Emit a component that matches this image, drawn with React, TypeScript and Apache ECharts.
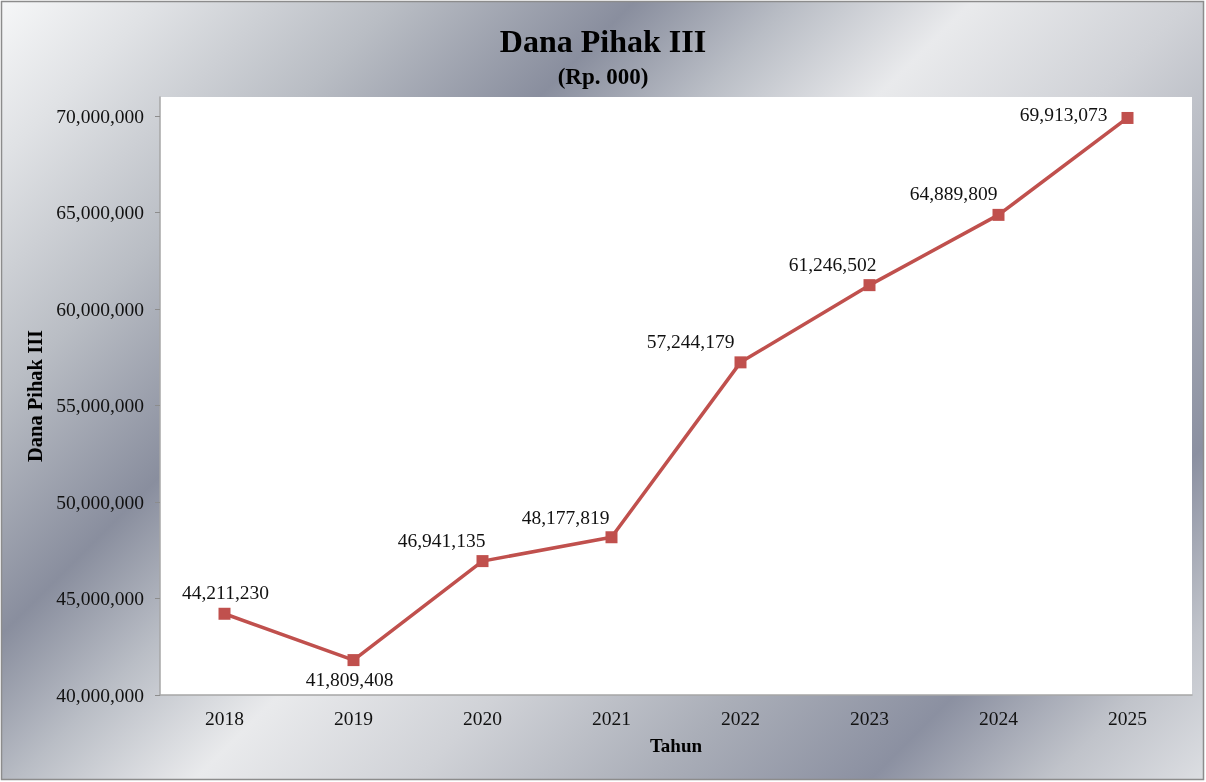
import React, { useEffect, useRef } from "react";
import * as echarts from "echarts";

const years = ["2018", "2019", "2020", "2021", "2022", "2023", "2024", "2025"];
const danaPihakIII = [44211230, 41809408, 46941135, 48177819, 57244179, 61246502, 64889809, 69913073];
const yTicks = [40000000, 45000000, 50000000, 55000000, 60000000, 65000000, 70000000];

const SERIF = '"Liberation Serif", "Times New Roman", serif';

// label placement (style only)
const labelPlacement: { position: string; offset: number[]; distance?: number }[] = [
  { position: "top", offset: [1, 0] },
  { position: "bottom", offset: [-4, -2] },
  { position: "top", offset: [-41, 0] },
  { position: "top", offset: [-46, 1] },
  { position: "top", offset: [-50, 0] },
  { position: "top", offset: [-37, 0] },
  { position: "top", offset: [-45, 0] },
  { position: "left", offset: [0, -3], distance: 14 },
];

const fmt = (v: number) => v.toLocaleString("en-US");

export default function App() {
  const ref = useRef<HTMLDivElement>(null);
  useEffect(() => {
    if (!ref.current) return;
    const chart = echarts.init(ref.current, null, { renderer: "svg" });
    const bg = {
      type: "linear",
      x: 0,
      y: 0,
      x2: 994,
      y2: 994,
      global: true,
      colorStops: [
        { offset: 0, color: "#f6f7f8" },
        { offset: 0.08, color: "#e0e2e5" },
        { offset: 0.2, color: "#b9bdc4" },
        { offset: 0.32, color: "#898e9e" },
        { offset: 0.4, color: "#b9bdc5" },
        { offset: 0.49, color: "#e9eaec" },
        { offset: 0.6, color: "#d0d2d7" },
        { offset: 0.72, color: "#aaaeb8" },
        { offset: 0.83, color: "#8b90a1" },
        { offset: 0.92, color: "#c0c3ca" },
        { offset: 1, color: "#dddfe3" },
      ],
    };
    chart.setOption({
      animation: false,
      graphic: {
        elements: [
          {
            type: "rect",
            z: -100,
            silent: true,
            shape: { x: 1.5, y: 1.5, width: 1202, height: 778 },
            style: { fill: bg as any, stroke: "#8c8c8c", lineWidth: 1.5 },
          },
        ],
      },
      title: [
        {
          text: "Dana Pihak III",
          left: "center",
          top: 18,
          textStyle: { fontFamily: SERIF, fontSize: 32, fontWeight: "bold", color: "#000", lineHeight: 36 },
        },
        {
          text: "(Rp. 000)",
          left: "center",
          top: 57,
          textStyle: { fontFamily: SERIF, fontSize: 23, fontWeight: "bold", color: "#000", lineHeight: 28 },
        },
      ],
      grid: {
        left: 160,
        right: 14,
        top: 97,
        bottom: 87,
        show: true,
        backgroundColor: "#ffffff",
        borderWidth: 0,
      },
      xAxis: {
        type: "category",
        data: years,
        boundaryGap: true,
        name: "Tahun",
        nameLocation: "middle",
        nameGap: 41,
        nameTextStyle: { fontFamily: SERIF, fontSize: 19, fontWeight: "bold", color: "#000" },
        axisLine: { show: true, lineStyle: { color: "#a6a6a6", width: 1.5 } },
        axisTick: { show: false },
        axisLabel: { fontFamily: SERIF, fontSize: 19.5, color: "#111", margin: 13 },
        splitLine: { show: false },
      },
      yAxis: {
        type: "value",
        min: 40000000,
        max: 71000000,
        interval: 5000000,
        name: "Dana Pihak III",
        nameLocation: "middle",
        nameGap: 108,
        nameTextStyle: { fontFamily: SERIF, fontSize: 20.5, fontWeight: "bold", color: "#000" },
        axisLine: { show: true, lineStyle: { color: "#a6a6a6", width: 1.5 } },
        axisTick: { show: true, length: 5, lineStyle: { color: "#8c8c8c" }, customValues: yTicks },
        axisLabel: {
          fontFamily: SERIF,
          fontSize: 19.5,
          color: "#111",
          margin: 16,
          customValues: yTicks,
          formatter: (v: number) => fmt(v),
        },
        splitLine: { show: false },
      },
      series: [
        {
          type: "line",
          data: danaPihakIII.map((v, i) => ({
            value: v,
            label: {
              position: labelPlacement[i].position,
              offset: labelPlacement[i].offset,
              distance: labelPlacement[i].distance ?? 5,
            },
          })),
          symbol: "rect",
          symbolSize: 12,
          itemStyle: { color: "#C0504D" },
          lineStyle: { color: "#C0504D", width: 3.5 },
          label: {
            show: true,
            fontFamily: SERIF,
            fontSize: 19.5,
            color: "#111",
            formatter: (p: any) => fmt(p.value),
          },
        },
      ],
    });
    return () => chart.dispose();
  }, []);
  return <div ref={ref} style={{ position: "fixed", left: 0, top: 0, width: 1206, height: 782 }} />;
}
